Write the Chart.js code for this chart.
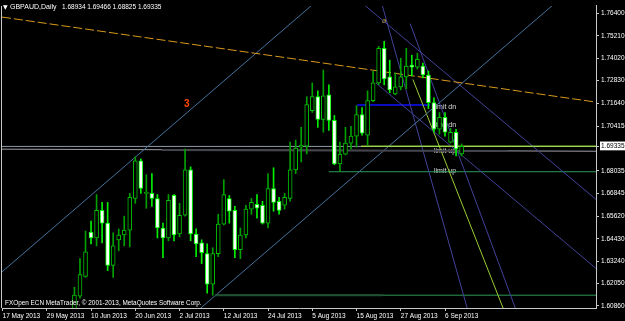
<!DOCTYPE html>
<html>
<head>
<meta charset="utf-8">
<script src="https://cdn.jsdelivr.net/npm/chart.js@4.4.0/dist/chart.umd.min.js"></script>
<style>
    html, body { margin: 0; padding: 0; background: #000; }
    canvas { display: block; }
</style>
</head>
<body>
<canvas id="myChart" width="625" height="321"></canvas>
<script>
// GBPAUD daily, one bar per trading day, bar 0 = 17 May 2013
const dateLabels = ['17 May 2013', '29 May 2013', '10 Jun 2013', '20 Jun 2013', '2 Jul 2013', '12 Jul 2013',
    '24 Jul 2013', '5 Aug 2013', '15 Aug 2013', '27 Aug 2013', '6 Sep 2013'];
const firstBar = 13; // 5 Jun 2013

const opens = [1.6054, 1.6138, 1.6243, 1.6479, 1.6447, 1.6594, 1.6526, 1.6301, 1.6437, 1.6463,
    1.6489, 1.6657, 1.6857, 1.6684, 1.6684, 1.6657, 1.6500, 1.6447, 1.6673, 1.6468,
    1.6568, 1.6809, 1.6468, 1.6421, 1.6364, 1.6201, 1.6364, 1.6521, 1.6657, 1.6594,
    1.6385, 1.6463, 1.6600, 1.6626, 1.6621, 1.6526, 1.6710, 1.6642, 1.6621, 1.6657,
    1.6809, 1.6930, 1.6935, 1.7124, 1.7198, 1.7077, 1.7208, 1.7072, 1.6841, 1.6893,
    1.6951, 1.6988, 1.7103, 1.6993, 1.7177, 1.7271, 1.7455, 1.7303, 1.7213, 1.7250,
    1.7303, 1.7366, 1.7355, 1.7360, 1.7313, 1.7166, 1.7025, 1.7088, 1.6956, 1.7009, 1.68934];
const highs = [1.6185, 1.6337, 1.6484, 1.6537, 1.6678, 1.6636, 1.6636, 1.6474, 1.6495, 1.6563,
    1.6684, 1.6878, 1.6867, 1.6783, 1.6789, 1.6678, 1.6526, 1.6678, 1.6678, 1.6631,
    1.6920, 1.6825, 1.6495, 1.6437, 1.6416, 1.6395, 1.6573, 1.6757, 1.6673, 1.6615,
    1.6500, 1.6621, 1.6657, 1.6678, 1.6642, 1.6789, 1.6820, 1.6663, 1.6684, 1.6956,
    1.6967, 1.7035, 1.7198, 1.7271, 1.7229, 1.7339, 1.7261, 1.7098, 1.6956, 1.7035,
    1.7040, 1.7150, 1.7140, 1.7229, 1.7334, 1.7465, 1.7492, 1.7392, 1.7324, 1.7402,
    1.7455, 1.7418, 1.7429, 1.7376, 1.7334, 1.7192, 1.7114, 1.7114, 1.7030, 1.7025, 1.69466];
const lows = [1.6038, 1.6127, 1.6238, 1.6416, 1.6405, 1.6421, 1.6274, 1.6238, 1.6379, 1.6405,
    1.6400, 1.6631, 1.6684, 1.6605, 1.6615, 1.6447, 1.6343, 1.6432, 1.6432, 1.6453,
    1.6563, 1.6432, 1.6348, 1.6311, 1.6154, 1.6143, 1.6348, 1.6516, 1.6526, 1.6343,
    1.6337, 1.6447, 1.6573, 1.6552, 1.6521, 1.6500, 1.6589, 1.6573, 1.6600, 1.6642,
    1.6789, 1.6851, 1.6893, 1.7114, 1.7035, 1.7009, 1.7019, 1.6836, 1.6799, 1.6888,
    1.6920, 1.6930, 1.6993, 1.6941, 1.7171, 1.7261, 1.7261, 1.7219, 1.7208, 1.7234,
    1.7240, 1.7308, 1.7345, 1.7297, 1.7135, 1.7009, 1.6998, 1.6988, 1.6951, 1.6883, 1.68825];
const closes = [1.6143, 1.6253, 1.6374, 1.6447, 1.6594, 1.6526, 1.6301, 1.6405, 1.6463, 1.6489,
    1.6663, 1.6857, 1.6710, 1.6689, 1.6657, 1.6500, 1.6447, 1.6647, 1.6463, 1.6568,
    1.6809, 1.6468, 1.6416, 1.6369, 1.6201, 1.6364, 1.6521, 1.6678, 1.6589, 1.6385,
    1.6463, 1.6600, 1.6636, 1.6605, 1.6526, 1.6710, 1.6636, 1.6594, 1.6663, 1.6809,
    1.6925, 1.6941, 1.7156, 1.7198, 1.7077, 1.7203, 1.7072, 1.6841, 1.6893, 1.6951,
    1.6988, 1.7103, 1.7004, 1.7177, 1.7271, 1.7455, 1.7292, 1.7234, 1.7250, 1.7303,
    1.7360, 1.7355, 1.7397, 1.7313, 1.7166, 1.7025, 1.7088, 1.7009, 1.7009, 1.6920, 1.69335];

const priceTicks = [1.764, 1.7521, 1.7402, 1.7283, 1.7164, 1.70415, 1.69335, 1.68035,
    1.66845, 1.6562, 1.6443, 1.6324, 1.6205, 1.6086];
const lastPrice = 1.69335;

// drawn objects: [bar, price] pairs
const orangeLine = [[-0.1, 1.7621], [107.3, 1.7169]];
const channelA = [[-0.1, 1.6267], [60, 1.7787]];
const channelB = [[30, 1.5927], [107.3, 1.7882]];
const purple1 = [[60, 1.7819], [107.3, 1.6652]];
const purple2 = [[67.5, 1.7271], [107.3, 1.6285]];
const purple3 = [[66, 1.7961], [86, 1.5865]];
const purple4 = [[73.7, 1.7586], [92.7, 1.6075]];
const yellowLine = [[74.2, 1.7289], [92, 1.5963]];
const bidLine = [[-0.1, lastPrice], [107.3, lastPrice]];
const yellowLevel = [[64.8, 1.6935], [107.3, 1.6935]];
const grayLine = [[-0.1, 1.6919], [107.3, 1.6908]];
const grayDark = [[28.8, 1.6915], [91.4, 1.6909]];
const blueLevel = [[64.1, 1.7154], [77.3, 1.7154]];
const greenLevel = [[59.0, 1.6799], [107.3, 1.6799]];
const bottomLevel = [[38.4, 1.6143], [107.3, 1.6143]];
const bottomDark = [[38.4, 1.6143], [68.7, 1.6143]];

const notes = [
    { text: 'limit dn', bar: 78.0, price: 1.7145, color: '#dcdcdc', font: '7px "Liberation Sans"' },
    { text: 'limit dn', bar: 78.0, price: 1.7046, color: '#dcdcdc', font: '7px "Liberation Sans"' },
    { text: 'limit up', bar: 78.0, price: 1.6909, color: '#dcdcdc', font: '7px "Liberation Sans"' },
    { text: 'limit up', bar: 78.0, price: 1.6804, color: '#dcdcdc', font: '7px "Liberation Sans"' },
    { text: '3', bar: 32.8, price: 1.7158, color: '#ff4500', font: 'bold 10px "Liberation Sans"' },
    { text: 'a', bar: 68.6, price: 1.7602, color: '#c0a020', font: '8px "Liberation Sans"' },
    { text: '1', bar: 38.6, price: 1.6059, color: '#e8e800', font: '8px "Liberation Sans"' }
];

const up = k => closes[k] >= opens[k];

function lineSet(points, color, width, order, dash) {
    return {
        type: 'line',
        data: points.map(p => ({ x: p[0], y: p[1] })),
        borderColor: color,
        borderWidth: width,
        borderDash: dash || [],
        pointRadius: 0,
        fill: false,
        tension: 0,
        order: order
    };
}

const overlay = {
    id: 'overlay',
    beforeDatasetsDraw(chart) {
        const { ctx, chartArea: a, scales: { x, y } } = chart;
        ctx.save();
        ctx.beginPath();
        ctx.rect(a.left, a.top, a.right - a.left, a.bottom - a.top);
        ctx.clip();
        ctx.textBaseline = 'middle';
        notes.forEach(n => {
            ctx.font = n.font;
            ctx.fillStyle = n.color;
            ctx.fillText(n.text, x.getPixelForValue(n.bar), y.getPixelForValue(n.price));
        });
        ctx.restore();
    },
    afterDraw(chart) {
        const { ctx, chartArea: a } = chart;
        ctx.save();
        ctx.strokeStyle = '#c8c8c8';
        ctx.lineWidth = 1;
        ctx.beginPath();
        ctx.moveTo(a.left - 0.5, a.top);
        ctx.lineTo(a.left - 0.5, a.bottom);
        ctx.stroke();
        ctx.fillStyle = '#ffffff';
        ctx.textBaseline = 'middle';
        ctx.font = '6px "DejaVu Sans"';
        ctx.fillText('\u25BC', 3, 7);
        ctx.font = '7px "Liberation Sans"';
        ctx.fillText('GBPAUD,Daily', 10, 7);
        ctx.font = '6.5px "Liberation Sans"';
        ctx.fillText('1.68934 1.69466 1.68825 1.69335', 62, 7);
        ctx.font = '6.4px "Liberation Sans"';
        ctx.fillText('FXOpen ECN MetaTrader, \u00A9 2001-2013, MetaQuotes Software Corp.', 5, 303.5);
        ctx.restore();
    }
};

const ctx = document.getElementById('myChart');
new Chart(ctx, {
    type: 'bar',
    data: {
        datasets: [
            {
                // candle bodies
                data: opens.map((o, k) => ({ x: firstBar + k, y: [o, closes[k]] })),
                backgroundColor: c => up(c.dataIndex) ? '#000000' : '#ffffff',
                borderColor: c => up(c.dataIndex) ? '#00c000' : '#00ff00',
                borderWidth: 1,
                borderSkipped: false,
                barThickness: 4,
                minBarLength: 1,
                grouped: false,
                order: 1
            },
            {
                // wicks
                data: lows.map((l, k) => ({ x: firstBar + k, y: [l, highs[k]] })),
                backgroundColor: c => up(c.dataIndex) ? '#00a000' : '#00f000',
                borderWidth: 0,
                barThickness: 1,
                grouped: false,
                order: 2
            },
            lineSet(grayDark, '#44444c', 2, 4),
            lineSet(yellowLevel, '#adff2f', 1, 4),
            lineSet(bottomDark, '#1f5232', 2, 4),
            lineSet(orangeLine, '#d89a1c', 1, 5, [9, 3]),
            lineSet(channelA, '#46729c', 1, 5),
            lineSet(channelB, '#46729c', 1, 5),
            lineSet(purple1, '#42429a', 1, 5),
            lineSet(purple2, '#42429a', 1, 5),
            lineSet(purple3, '#42429a', 1, 5),
            lineSet(purple4, '#42429a', 1, 5),
            lineSet(yellowLine, '#9acd32', 1, 5),
            lineSet(blueLevel, '#0a0ac0', 2, 5),
            lineSet(greenLevel, '#2e9a5a', 1, 5),
            lineSet(bottomLevel, '#2e9a5a', 1, 5),
            lineSet(bidLine, '#9098a8', 1, 6),
            lineSet(grayLine, '#a0a0a8', 1, 6)
        ]
    },
    options: {
        responsive: false,
        devicePixelRatio: 1,
        animation: false,
        events: [],
        layout: { padding: { left: 2, top: 2, right: 0, bottom: 0 } },
        plugins: { legend: { display: false }, tooltip: { enabled: false } },
        scales: {
            x: {
                type: 'linear',
                min: -0.1,
                max: 107.3,
                offset: false,
                grid: { offset: false, drawOnChartArea: false, tickLength: 3, color: '#c8c8c8' },
                border: { display: true, color: '#c8c8c8' },
                ticks: {
                    color: '#ffffff',
                    font: { family: 'Liberation Sans', size: 6.5 },
                    align: 'start',
                    padding: 1,
                    maxRotation: 0,
                    autoSkip: false,
                    callback: v => dateLabels[Math.round(v / 8)]
                },
                afterBuildTicks: s => { s.ticks = dateLabels.map((d, k) => ({ value: k * 8 })); },
                afterFit: s => { s.height = 13; }
            },
            y: {
                type: 'linear',
                position: 'right',
                min: 1.60749,
                max: 1.76803,
                grid: { drawOnChartArea: false, tickLength: 3, color: '#c8c8c8' },
                border: { display: true, color: '#c8c8c8' },
                ticks: {
                    color: c => c.tick && c.tick.value === lastPrice ? '#000000' : '#ffffff',
                    showLabelBackdrop: c => !!(c.tick && c.tick.value === lastPrice),
                    backdropColor: '#ffffff',
                    backdropPadding: { top: 1, bottom: 0, left: 1, right: 2 },
                    font: { family: 'Liberation Sans', size: 6.5 },
                    padding: 2,
                    callback: v => v.toFixed(5)
                },
                afterBuildTicks: s => { s.ticks = priceTicks.map(v => ({ value: v })); },
                afterFit: s => { s.width = 29; }
            }
        }
    },
    plugins: [overlay]
});
</script>
</body>
</html>
